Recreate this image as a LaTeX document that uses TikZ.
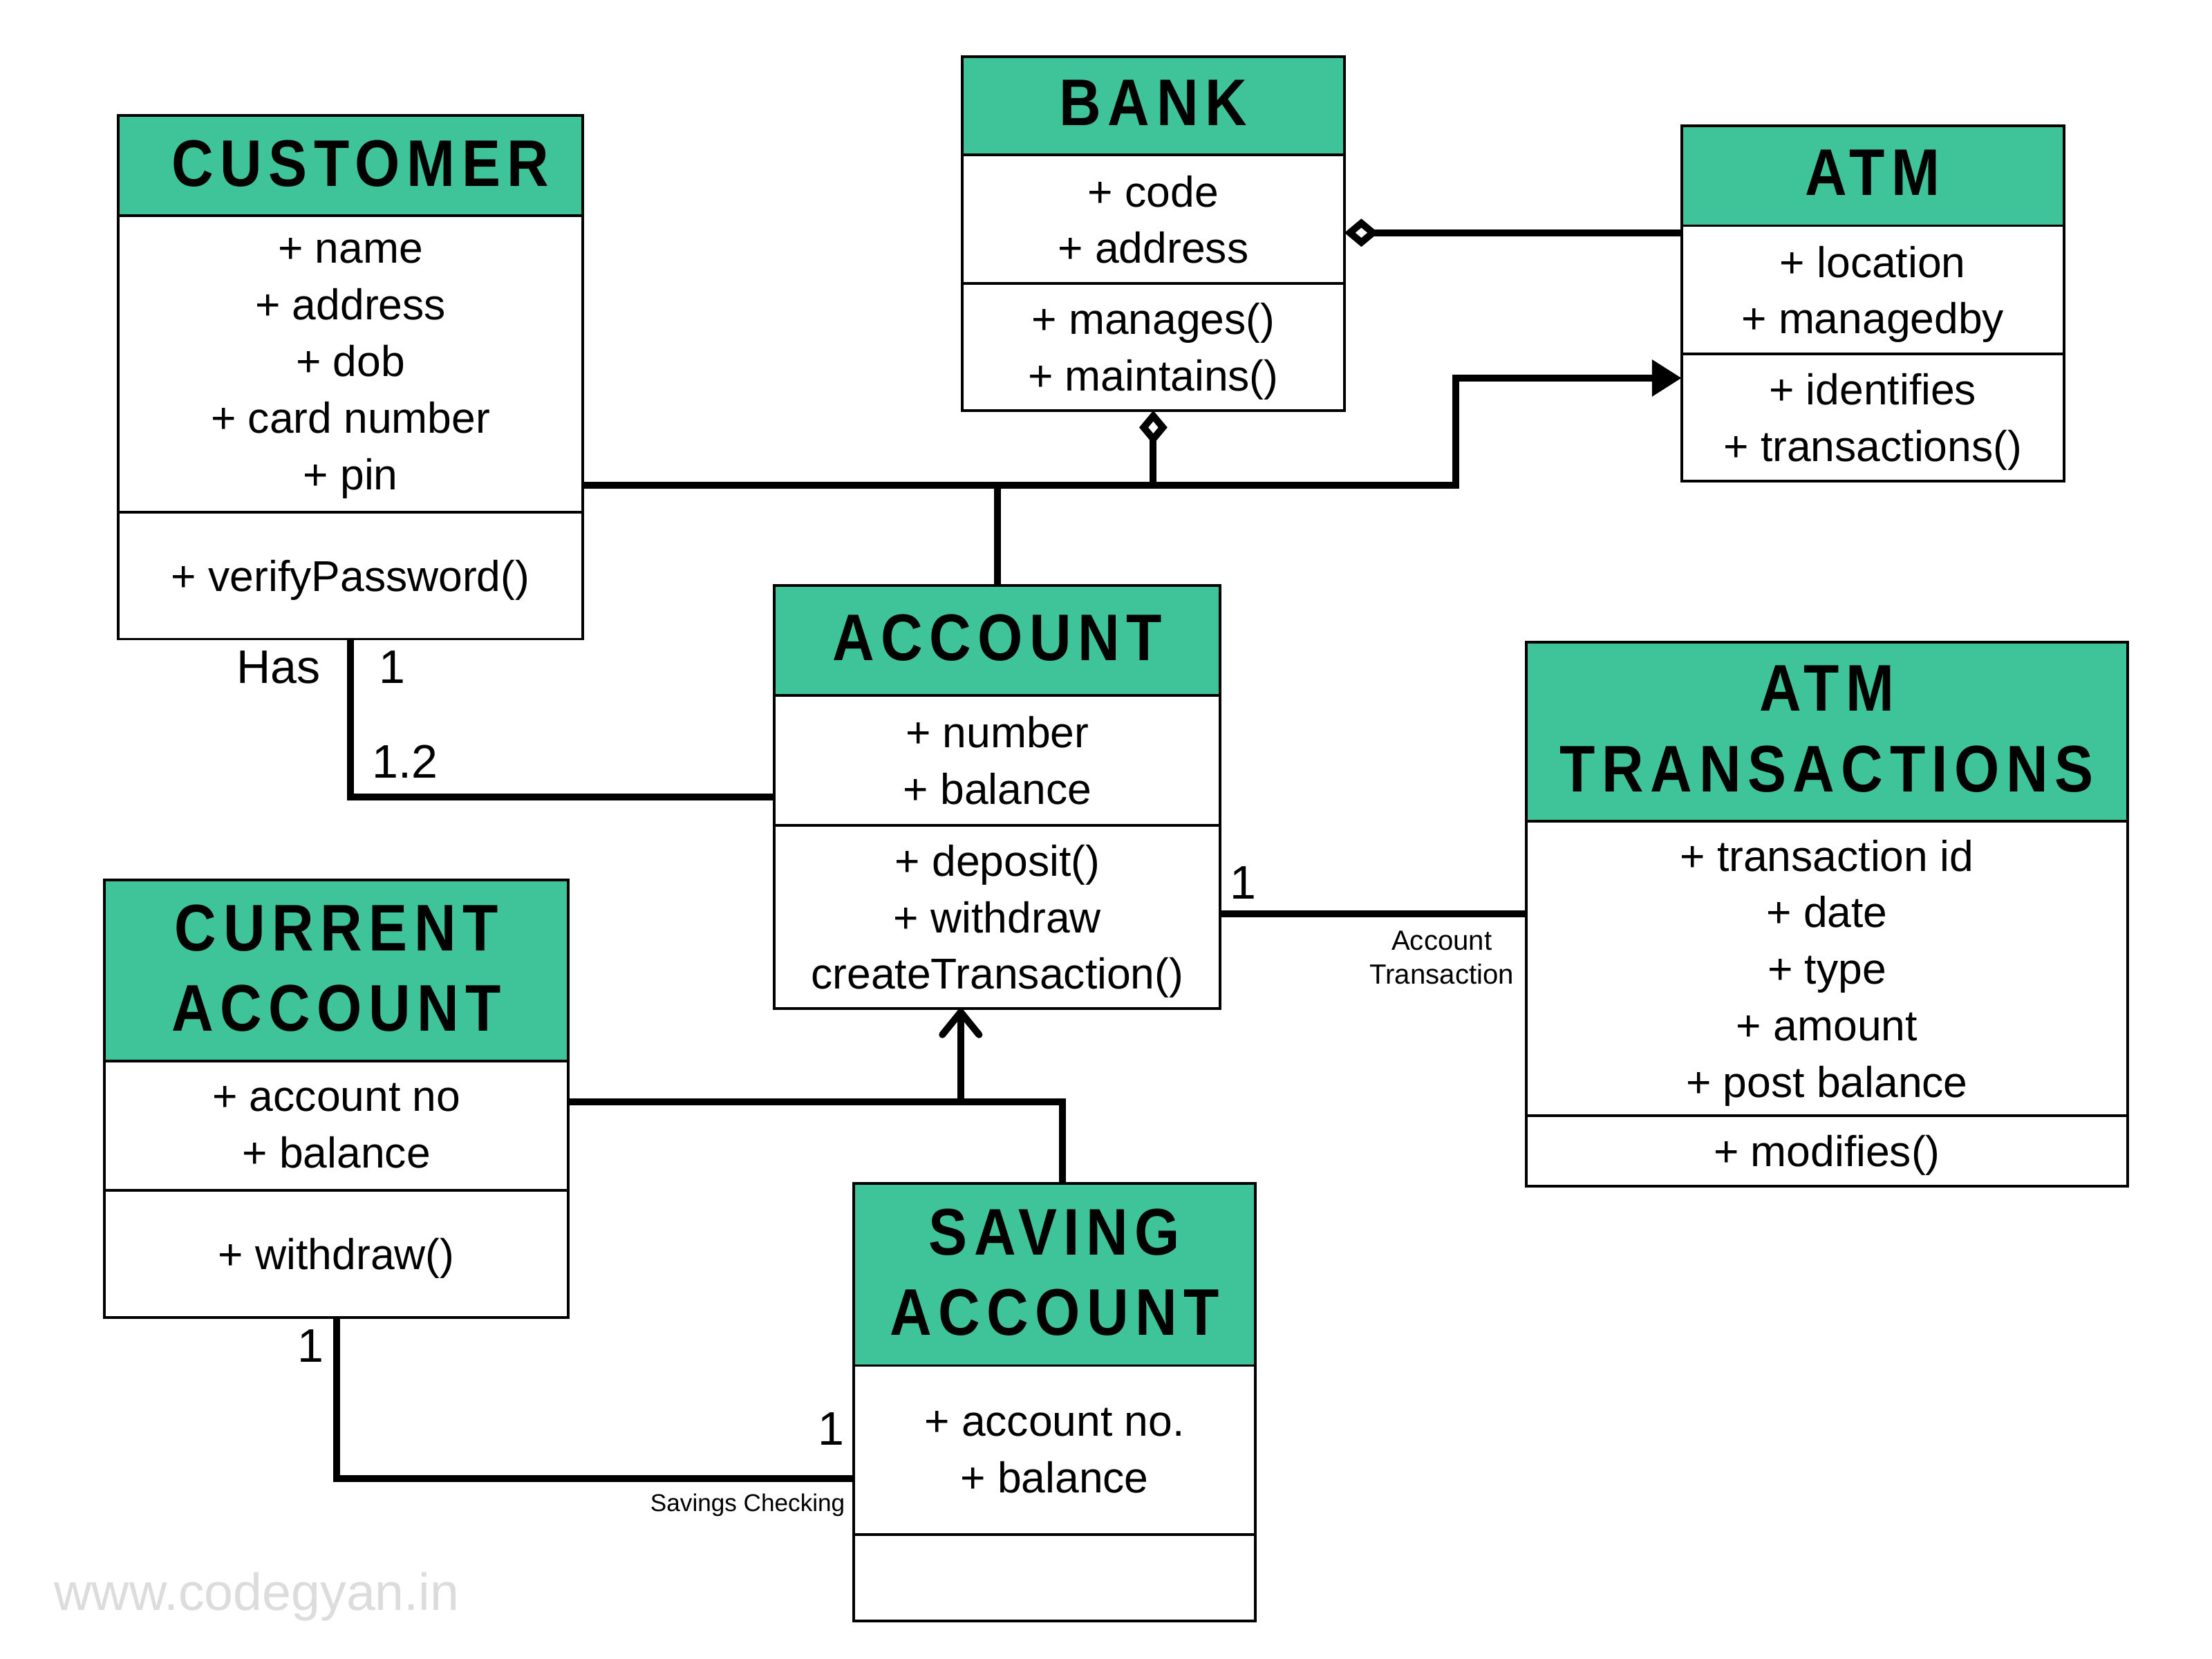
\documentclass[tikz,border=0pt]{standalone}
\usepackage{fontspec}
\setmainfont{Liberation Sans}
\newfontfamily\titlefont{Liberation Sans}[FakeStretch=0.88,LetterSpace=10]
\usetikzlibrary{positioning,arrows.meta}

\definecolor{umlgreen}{HTML}{3FC49A}
\definecolor{markgray}{HTML}{DCDCDC}

\newcommand{\attrfont}{\fontsize{8.7}{11.4}\selectfont}
\newcommand{\headfont}{\titlefont\bfseries\fontsize{13.3}{16.2}\selectfont}

\begin{document}
\begin{tikzpicture}[
    hd/.style={draw, line width=0.55pt, fill=umlgreen, inner sep=0pt, outer sep=0pt, align=center, text depth=1.1pt, font=\headfont},
    sec/.style={draw, line width=0.55pt, fill=white, inner sep=0pt, outer sep=0pt, align=center, text depth=0pt, font=\attrfont},
    assoc/.style={line width=1.4pt},
    mult/.style={font=\fontsize{9.5}{11}\selectfont, inner sep=0pt},
    role/.style={font=\fontsize{5.6}{6.8}\selectfont, align=center, inner sep=0pt}
  ]
  % Page
  \fill[white] (0,0) rectangle (15.68,-11.76);
  \useasboundingbox (0,0) rectangle (15.68,-11.76);

  % Customer
  \node[hd, anchor=north west, minimum width=3.29cm, minimum height=0.71cm] (cushd) at (0.84,-0.82) {\hspace*{0.14cm}CUSTOMER};
  \node[sec, below=0pt of cushd, minimum width=3.29cm, minimum height=2.10cm, text depth=-1.6pt] (cusattr) {+ name\\+ address\\+ dob\\+ card number\\+ pin};
  \node[sec, below=0pt of cusattr, minimum width=3.29cm, minimum height=0.90cm] (cusops) {+ verifyPassword()};

  % Bank
  \node[hd, anchor=north west, minimum width=2.71cm, minimum height=0.70cm] (bankhd) at (6.82,-0.40) {BANK};
  \node[sec, below=0pt of bankhd, minimum width=2.71cm, minimum height=0.91cm] (bankattr) {+ code\\+ address};
  \node[sec, below=0pt of bankattr, minimum width=2.71cm, minimum height=0.90cm] (bankops) {+ manages()\\+ maintains()};

  % ATM
  \node[hd, anchor=north west, minimum width=2.71cm, minimum height=0.71cm] (atmhd) at (11.92,-0.89) {ATM};
  \node[sec, below=0pt of atmhd, minimum width=2.71cm, minimum height=0.91cm] (atmattr) {+ location\\+ managedby};
  \node[sec, below=0pt of atmattr, minimum width=2.71cm, minimum height=0.90cm] (atmops) {+ identifies\\+ transactions()};

  % Account
  \node[hd, anchor=north west, minimum width=3.16cm, minimum height=0.78cm] (acchd) at (5.49,-4.15) {ACCOUNT};
  \node[sec, below=0pt of acchd, minimum width=3.16cm, minimum height=0.92cm] (accattr) {+ number\\+ balance};
  \node[sec, below=0pt of accattr, minimum width=3.16cm, minimum height=1.30cm] (accops) {+ deposit()\\+ withdraw\\createTransaction()};

  % ATM transactions
  \node[hd, anchor=north west, minimum width=4.26cm, minimum height=1.27cm] (trhd) at (10.82,-4.55) {ATM\\TRANSACTIONS};
  \node[sec, below=0pt of trhd, minimum width=4.26cm, minimum height=2.09cm] (tratts) {+ transaction id\\+ date\\+ type\\+ amount\\+ post balance};
  \node[sec, below=0pt of tratts, minimum width=4.26cm, minimum height=0.50cm] (trops) {+ modifies()};

  % Current account
  \node[hd, anchor=north west, minimum width=3.29cm, minimum height=1.28cm] (curhd) at (0.74,-6.24) {CURRENT\\ACCOUNT};
  \node[sec, below=0pt of curhd, minimum width=3.29cm, minimum height=0.92cm] (curattr) {+ account no\\+ balance};
  \node[sec, below=0pt of curattr, minimum width=3.29cm, minimum height=0.90cm] (curops) {+ withdraw()};

  % Saving account
  \node[hd, anchor=north west, minimum width=2.85cm, minimum height=1.29cm] (savhd) at (6.05,-8.39) {SAVING\\ACCOUNT};
  \node[sec, below=0pt of savhd, minimum width=2.85cm, minimum height=1.20cm] (savattr) {+ account no.\\+ balance};
  \node[sec, below=0pt of savattr, minimum width=2.85cm, minimum height=0.61cm] (savops) {};

  % Bank -- ATM
  \draw[assoc, -{Diamond[open, length=2.4mm, width=2mm]}] (atmattr.west |- 0,-1.65) -- (bankattr.east |- 0,-1.65);

  % Customer -- ATM, with Bank and Account
  \coordinate (bend) at (10.32,-3.44);
  \draw[assoc, -{Triangle[length=2.1mm, width=2.5mm]}] (cusattr.east |- bend) -- (bend) |- (atmops.west |- 0,-2.68);
  \draw[assoc, -{Diamond[open, length=2.4mm, width=2mm]}] (bankops.south |- bend) -- (bankops.south);
  \draw[assoc] (acchd.north) -- (acchd.north |- bend);

  % Customer has Account
  \draw[assoc] (cusops.south) |- (accattr.west |- 0,-5.65);
  \node[mult, anchor=east] (has) at (2.28,-4.73) {Has};
  \node[mult] (cusone) at (2.78,-4.73) {1};
  \node[mult] (accmany) at (2.87,-5.40) {1.2};

  % Account -- ATM transactions
  \draw[assoc] (accops.east |- 0,-6.48) -- (tratts.west |- 0,-6.48);
  \node[mult] (accone) at (8.81,-6.26) {1};
  \node[role] (accrole) at (10.22,-6.79) {Account\\Transaction};

  % Generalization
  \coordinate (gen) at (7.53,-7.81);
  \coordinate (genup) at (6.81,-7.81);
  \draw[assoc] (curattr.east |- gen) -- (gen) -- (gen |- savhd.north);
  \draw[assoc, -{Straight Barb[round, length=1.6mm, width=2.6mm]}] (genup) -- (genup |- accops.south);

  % Current -- Saving
  \draw[assoc] (curops.south) |- (savattr.west |- 0,-10.48);
  \node[mult] (curone) at (2.20,-9.54) {1};
  \node[mult] (savone) at (5.89,-10.13) {1};
  \node[role, font=\fontsize{4.9}{6}\selectfont] (savrole) at (5.30,-10.67) {Savings Checking};

  % Watermark
  \node[font=\fontsize{10.5}{12}\selectfont, text=markgray, inner sep=0pt] (site) at (1.82,-11.32) {www.codegyan.in};
\end{tikzpicture}
\end{document}
